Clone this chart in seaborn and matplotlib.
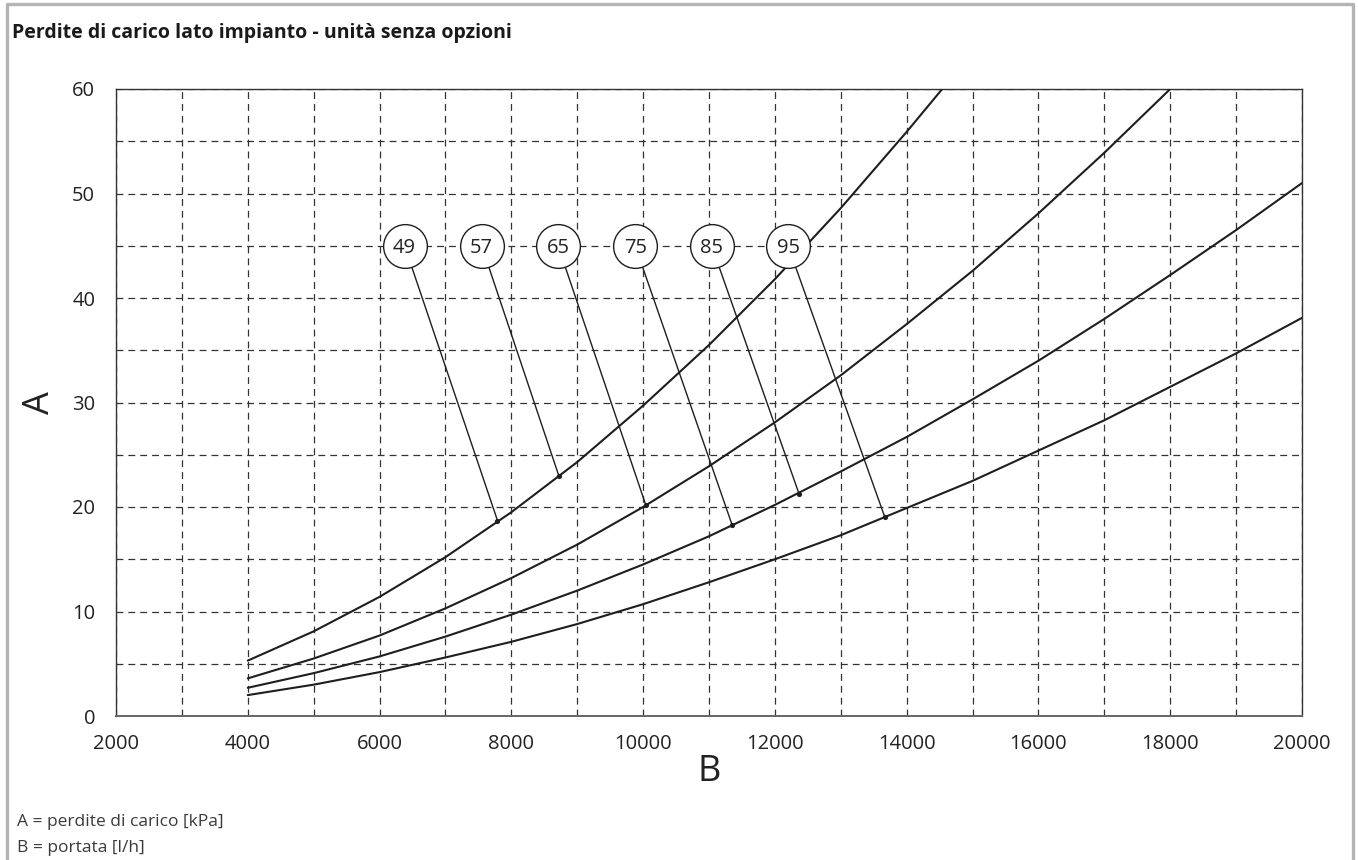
import pandas as pd
import matplotlib
matplotlib.use('Agg')
import matplotlib.pyplot as plt
import seaborn as sns
from matplotlib.lines import Line2D
from matplotlib.ticker import MultipleLocator

# perdite di carico [kPa], per portata [l/h]
portata_1 = [4000, 5000, 6000, 7000, 8000, 9000, 10000, 11000, 12000, 13000, 14000, 14540]
perdite_1 = [5.3, 8.1, 11.4, 15.2, 19.5, 24.3, 29.7, 35.5, 41.8, 48.6, 55.9, 60.0]

portata_2 = [4000, 5000, 6000, 7000, 8000, 9000, 10000, 11000, 12000, 13000, 14000,
             15000, 16000, 17000, 18000]
perdite_2 = [3.6, 5.5, 7.7, 10.3, 13.2, 16.4, 20.0, 23.9, 28.1, 32.6, 37.5,
             42.6, 48.1, 53.9, 60.0]

portata_3 = [4000, 5000, 6000, 7000, 8000, 9000, 10000, 11000, 12000, 13000, 14000,
             15000, 16000, 17000, 18000, 19000, 20000]
perdite_3 = [2.7, 4.1, 5.7, 7.6, 9.7, 12.0, 14.5, 17.2, 20.2, 23.4, 26.7,
             30.3, 34.0, 38.0, 42.2, 46.5, 51.0]

portata_4 = [4000, 5000, 6000, 7000, 8000, 9000, 10000, 11000, 12000, 13000, 14000,
             15000, 16000, 17000, 18000, 19000, 20000]
perdite_4 = [2.0, 3.0, 4.2, 5.6, 7.1, 8.8, 10.7, 12.8, 15.0, 17.3, 19.9,
             22.5, 25.4, 28.3, 31.5, 34.7, 38.1]

# taglie delle unita' e punti indicati
etichette = ['49', '57', '65', '75', '85', '95']
etichette_x = [6380, 7550, 8710, 9880, 11040, 12200]
etichette_y = [45, 45, 45, 45, 45, 45]
punti_x = [7790, 8720, 10040, 11350, 12370, 13670]
punti_y = [18.7, 23.0, 20.2, 18.3, 21.2, 19.0]

titolo = 'Perdite di carico lato impianto - unità senza opzioni'
note = ['A = perdite di carico [kPa]', 'B = portata [l/h]']

sns.set_theme(style='white')
plt.rcParams['font.family'] = ['Open Sans', 'DejaVu Sans']
ink = '#1e1e1e'

W, H = 1358, 860
fig = plt.figure(figsize=(W / 100, H / 100), dpi=100)
ax = fig.add_axes([116 / W, 1 - 716 / H, (1302 - 116) / W, (716 - 89) / H])

curve = [(portata_1, perdite_1), (portata_2, perdite_2),
         (portata_3, perdite_3), (portata_4, perdite_4)]
df = pd.concat([pd.DataFrame({'B': x, 'A': y, 'curva': 'c%d' % i})
                for i, (x, y) in enumerate(curve)], ignore_index=True)

sns.lineplot(data=df, x='B', y='A', hue='curva', palette=[ink] * 4,
             estimator=None, sort=False, legend=False, linewidth=1.5, ax=ax, zorder=3)

ax.set_xlim(2000, 20000)
ax.set_ylim(0, 60)
ax.set_xticks(range(2000, 20001, 2000))
ax.set_yticks(range(0, 61, 10))
ax.xaxis.set_minor_locator(MultipleLocator(1000))
ax.yaxis.set_minor_locator(MultipleLocator(5))
ax.grid(which='both', color='#333333', linewidth=0.9, linestyle=(0, (5.5, 4)))
ax.set_axisbelow(True)

ax.tick_params(which='major', direction='out', length=6, width=1, color='#333333',
               labelsize=14.5, labelcolor='#222222')
ax.tick_params(axis='x', which='major', length=5, pad=8)
ax.tick_params(axis='y', which='major', pad=9)
ax.tick_params(which='minor', length=0)
for s in ax.spines.values():
    s.set_color('#333333')
    s.set_linewidth(1)
ax.spines['bottom'].set_color('#666666')
ax.spines['bottom'].set_linewidth(1.4)

ax.set_xlabel('B', fontsize=26, va='center', color='#222222')
ax.set_ylabel('A', fontsize=26, va='center', ha='center', rotation=90, color='#222222')
ax.xaxis.set_label_coords(0.5, -0.089)
ax.yaxis.set_label_coords(-0.064, 0.5)

# linee di richiamo, punti e cerchi con le taglie
for lab, ex, ey, px, py in zip(etichette, etichette_x, etichette_y, punti_x, punti_y):
    ax.annotate('', xy=(px, py), xytext=(ex, ey),
                arrowprops=dict(arrowstyle='-', color=ink, lw=1, shrinkA=15.8, shrinkB=0),
                zorder=4)
ax.scatter(punti_x, punti_y, s=14, color=ink, zorder=5, linewidths=0)
ax.scatter(etichette_x, etichette_y, s=31.5 ** 2, facecolor='white', edgecolor=ink,
           linewidths=1, zorder=6)
for lab, ex, ey in zip(etichette, etichette_x, etichette_y):
    ax.text(ex, ey, lab, ha='center', va='center_baseline', fontsize=14.5,
            color='#222222', zorder=7)

fig.text(12 / W, 1 - 38 / H, titolo, fontsize=14, fontweight='bold',
         va='baseline', ha='left', color='#1a1a1a')
fig.text(17 / W, 1 - 822 / H, note[0], fontsize=12.5, va='center', color='#3a3a3a')
fig.text(17 / W, 1 - 848 / H, note[1], fontsize=12.5, va='center', color='#3a3a3a')

# cornice grigia
fig.add_artist(Line2D([7 / W, 7 / W, 1353 / W, 1353 / W], [0, 1 - 4 / H, 1 - 4 / H, 0],
                      transform=fig.transFigure, color='#b4b4b4', linewidth=2.4))

fig.savefig('out.png', dpi=100)
